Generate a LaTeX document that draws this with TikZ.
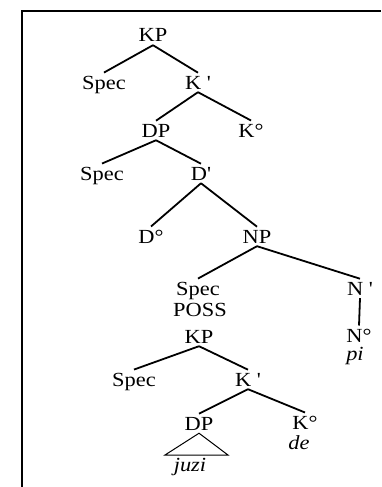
\documentclass[tikz,border=0pt]{standalone}
\usepackage{fontspec}
\setmainfont{Liberation Serif}[Ligatures=TeXOff,FakeStretch=1.12]
\begin{document}
\begin{tikzpicture}[x=1pt,y=1pt,
  lab/.style={anchor=base,inner sep=3pt,font=\fontsize{20}{23}\selectfont},
  itlab/.style={lab,font=\fontsize{20}{23}\selectfont\itshape},
  branch/.style={line width=1.8pt},
  tri/.style={line width=1pt},
  frame/.style={line width=2pt}]
\useasboundingbox (0,0) rectangle (381,-487);
% frame
\coordinate (fa) at (22,-487);
\coordinate (fb) at (22,-11);
\coordinate (fc) at (381,-11);
\draw[frame] (fa) -- (fb) -- (fc);
% nodes
\node[lab] (kp1) at (153,-42) {KP};
\node[lab] (spec1) at (104,-89) {Spec};
\node[lab] (kb1) at (198,-89) {K '};
\node[lab] (dp1) at (156,-137) {DP};
\node[lab] (k01) at (251,-137) {K°};
\node[lab] (spec2) at (102,-180) {Spec};
\node[lab] (db1) at (201,-180) {D'};
\node[lab] (d0) at (151,-243) {D°};
\node[lab] (np) at (257,-243) {NP};
\node[lab] (spec3) at (198,-295) {Spec};
\node[lab] (poss) at (200,-316) {POSS};
\node[lab] (kp2) at (199,-343) {KP};
\node[lab] (nb) at (360,-295) {N '};
\node[lab] (n0) at (359,-342) {N°};
\node[itlab] (pi) at (355,-360) {pi};
\node[lab] (spec4) at (134,-386) {Spec};
\node[lab] (kb2) at (248,-386) {K '};
\node[lab] (dp2) at (199,-430) {DP};
\node[lab] (k02) at (305,-429) {K°};
\node[itlab] (de) at (299,-449) {de};
\node[itlab] (juzi) at (190,-471) {juzi};
% branches
\draw[branch] (kp1.south) -- (spec1.north);
\draw[branch] (kp1.south) -- (kb1.north);
\draw[branch] (kb1.south) -- (dp1.north);
\draw[branch] (kb1.south) -- (k01.north);
\draw[branch] (dp1.south) -- (spec2.north);
\draw[branch] (dp1.south) -- (db1.north);
\draw[branch] (db1.south) -- (d0.north);
\draw[branch] (db1.south) -- (np.north);
\draw[branch] (np.south) -- (spec3.north);
\draw[branch] (np.south) -- (nb.north);
\draw[branch] (nb.south) -- (n0.north);
\draw[branch] (kp2.south) -- (spec4.north);
\draw[branch] (kp2.south) -- (kb2.north);
\draw[branch] (kb2.south) -- (dp2.north);
\draw[branch] (kb2.south) -- (k02.north);
% triangle
\coordinate (tl) at (165,-455);
\coordinate (tr) at (228,-455);
\draw[tri] (dp2.south) -- (tl) -- (tr) -- cycle;
\end{tikzpicture}
\end{document}
